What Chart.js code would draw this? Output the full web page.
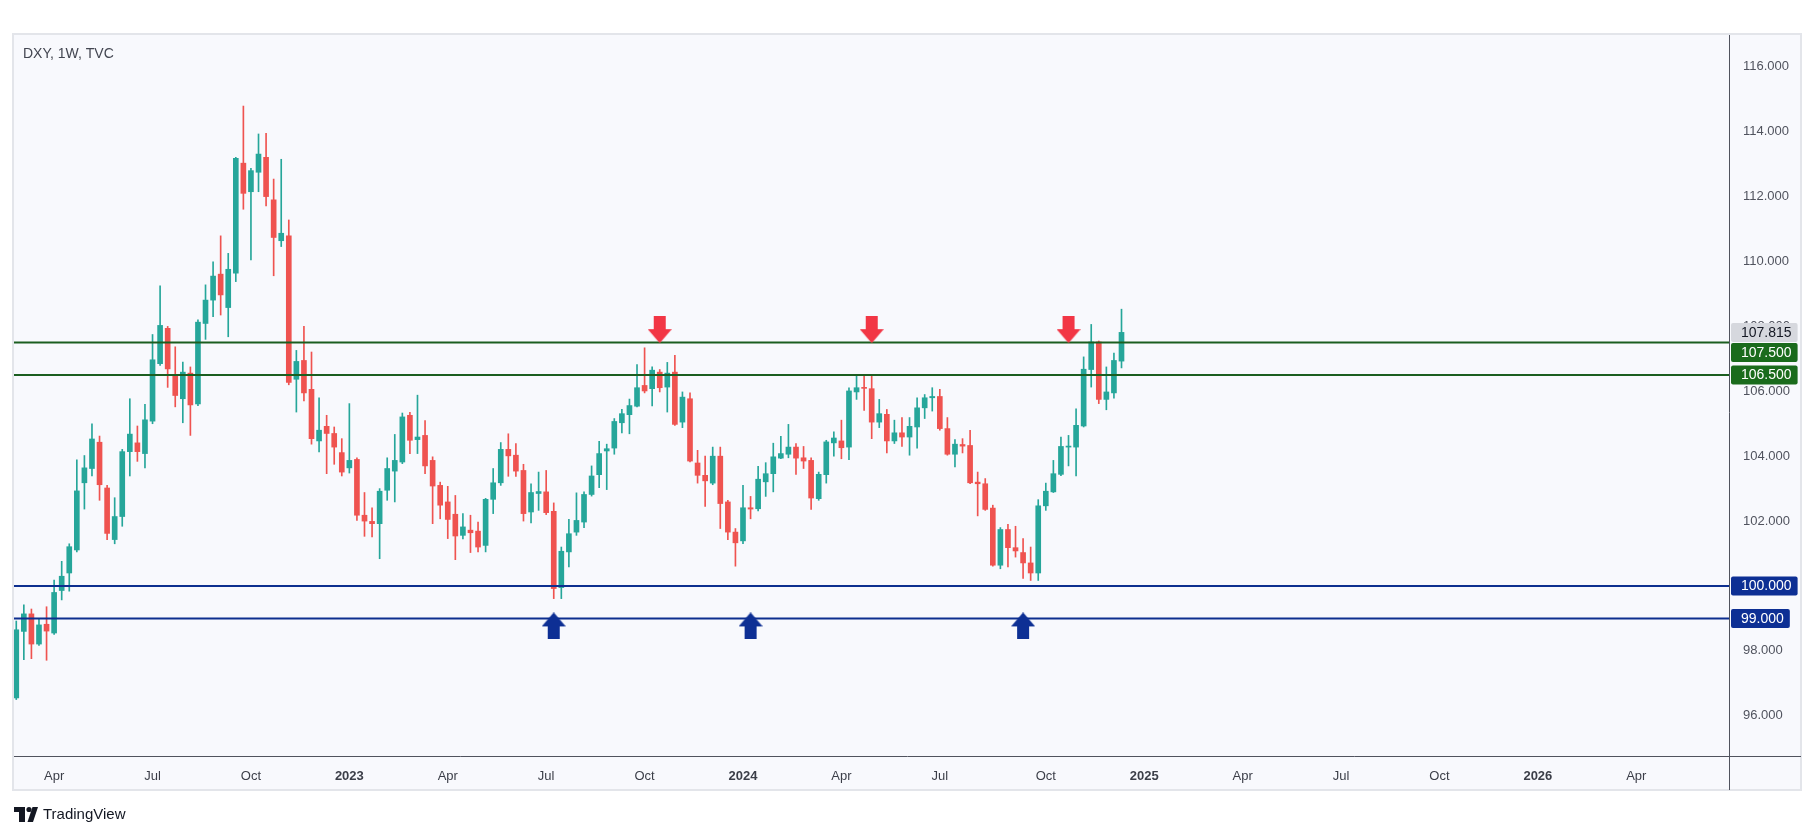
<!DOCTYPE html>
<html>
<head>
<meta charset="utf-8">
<script src="https://cdn.jsdelivr.net/npm/chart.js@4.4.1/dist/chart.umd.min.js"></script>
<style>
  html, body { margin: 0; padding: 0; background: #ffffff; }
  #wrap { width: 1815px; height: 836px; }
</style>
</head>
<body>
<div id="wrap"><canvas id="dxyChart" width="1815" height="836"></canvas></div>
<script>
// DXY weekly candles, first bar = week of 2022-02-28, one bar per week
const opens = [96.55, 98.60, 99.14, 98.21, 98.82, 98.55, 99.86, 100.40, 101.11, 103.18,
  103.62, 104.43, 103.02, 101.43, 102.14, 104.14, 104.41, 104.08, 105.08, 106.85,
  107.94, 106.52, 105.77, 106.56, 105.61, 108.09, 108.81, 109.61, 108.58, 109.64,
  113.03, 112.15, 112.75, 113.21, 111.90, 110.64, 110.79, 106.37, 106.95, 106.06,
  104.47, 104.92, 104.70, 104.11, 103.64, 103.90, 102.18, 101.99, 101.92, 102.95,
  103.54, 103.82, 105.26, 104.51, 104.64, 103.87, 103.10, 102.59, 102.21, 101.56,
  101.72, 101.69, 101.25, 102.67, 103.18, 104.21, 104.03, 103.56, 102.28, 102.85,
  102.90, 102.30, 99.95, 101.05, 101.66, 101.97, 102.82, 103.43, 104.16, 104.25,
  105.03, 105.28, 105.54, 106.18, 106.08, 106.59, 106.13, 106.59, 105.05, 105.77,
  103.79, 103.41, 103.17, 104.00, 102.59, 101.66, 101.39, 102.41, 102.38, 103.21,
  103.46, 103.94, 104.06, 104.28, 103.95, 103.87, 102.69, 103.43, 104.41, 104.47,
  104.28, 105.98, 106.12, 106.08, 105.05, 105.29, 104.47, 104.72, 104.59, 104.90,
  105.49, 105.80, 105.84, 104.85, 104.06, 104.36, 104.33, 103.20, 103.15, 102.40,
  100.64, 101.74, 101.18, 101.03, 100.71, 100.40, 102.47, 102.90, 103.44, 104.28,
  104.28, 104.93, 106.67, 107.52, 105.75, 105.95, 106.93];
const highs = [98.92, 99.42, 99.29, 98.99, 99.36, 100.18, 100.76, 101.30, 103.89, 104.02,
  105.00, 104.62, 103.10, 102.72, 104.21, 105.77, 104.93, 105.60, 107.75, 109.25,
  108.00, 107.37, 106.90, 106.75, 108.20, 109.28, 109.99, 110.79, 110.25, 113.21,
  114.79, 112.87, 113.93, 113.95, 112.54, 113.15, 111.28, 107.26, 108.00, 107.21,
  105.80, 105.26, 104.90, 104.54, 105.62, 103.95, 102.88, 102.41, 103.00, 103.95,
  104.67, 105.33, 105.35, 105.88, 105.10, 103.98, 103.20, 103.07, 102.79, 102.23,
  102.18, 101.97, 102.70, 103.62, 104.42, 104.69, 104.39, 103.75, 103.15, 103.51,
  103.56, 102.56, 101.20, 102.05, 102.87, 102.90, 103.70, 104.46, 104.37, 105.16,
  105.44, 105.76, 106.82, 107.34, 106.75, 106.67, 106.89, 107.11, 105.98, 105.95,
  104.18, 104.00, 104.28, 104.28, 102.64, 101.77, 103.10, 102.76, 103.69, 103.80,
  104.40, 104.61, 104.98, 104.39, 104.30, 103.95, 103.51, 104.49, 104.75, 105.11,
  106.11, 106.52, 106.49, 106.49, 105.75, 105.44, 105.11, 105.19, 105.19, 105.80,
  105.90, 106.11, 106.06, 105.19, 104.51, 104.54, 104.80, 103.51, 103.31, 102.49,
  101.80, 101.90, 101.84, 101.46, 101.20, 102.66, 103.17, 103.87, 104.59, 104.64,
  105.46, 107.06, 108.06, 107.55, 106.75, 107.18, 108.53];
const lows = [96.50, 97.73, 97.76, 98.17, 97.71, 98.51, 99.57, 99.84, 101.05, 102.37,
  103.39, 102.64, 101.43, 101.30, 101.84, 103.39, 103.84, 103.64, 105.00, 106.80,
  106.12, 105.52, 105.03, 104.64, 105.56, 107.60, 108.30, 108.35, 107.68, 109.38,
  111.61, 110.05, 112.15, 111.71, 109.56, 110.46, 106.20, 105.36, 105.70, 104.37,
  104.13, 103.46, 103.75, 103.39, 103.48, 102.02, 101.53, 101.51, 100.84, 102.64,
  102.59, 103.77, 104.08, 104.08, 103.46, 101.92, 102.07, 101.46, 100.81, 101.45,
  101.03, 101.05, 101.05, 102.23, 103.10, 103.38, 103.38, 102.00, 101.94, 102.33,
  102.20, 99.61, 99.61, 100.59, 101.56, 101.80, 102.77, 103.03, 102.97, 104.06,
  104.72, 104.69, 105.52, 105.95, 105.55, 105.98, 105.36, 104.95, 104.88, 103.82,
  103.17, 102.45, 103.12, 101.77, 101.43, 100.61, 101.30, 102.07, 102.31, 102.76,
  102.90, 103.92, 103.95, 103.44, 103.62, 102.36, 102.64, 103.17, 104.00, 103.92,
  103.89, 105.75, 105.41, 104.54, 104.88, 104.10, 104.39, 104.30, 104.03, 104.25,
  105.16, 105.39, 104.80, 104.03, 103.67, 104.10, 103.15, 102.16, 102.33, 100.61,
  100.53, 100.59, 100.89, 100.23, 100.17, 100.17, 102.33, 102.88, 103.40, 103.70,
  103.39, 104.90, 106.13, 105.62, 105.43, 105.79, 106.72];
const closes = [98.65, 99.14, 98.21, 98.80, 98.61, 99.80, 100.30, 101.21, 102.93, 103.64,
  104.53, 103.12, 101.62, 102.14, 104.14, 104.68, 104.14, 105.12, 106.97, 108.03,
  106.69, 105.87, 106.59, 105.58, 108.13, 108.81, 109.55, 108.97, 109.76, 113.18,
  112.10, 112.80, 113.31, 112.00, 110.74, 110.87, 106.27, 106.92, 105.95, 104.54,
  104.80, 104.70, 104.28, 103.51, 103.87, 102.18, 102.00, 101.92, 102.92, 103.62,
  103.87, 105.21, 104.49, 104.59, 103.70, 103.08, 102.49, 102.05, 101.54, 101.82,
  101.64, 101.20, 102.67, 103.18, 104.21, 104.01, 103.54, 102.23, 102.88, 102.91,
  102.26, 99.92, 101.07, 101.61, 102.02, 102.82, 103.39, 104.08, 104.23, 105.07,
  105.31, 105.56, 106.11, 106.01, 106.65, 106.11, 106.56, 104.98, 105.82, 103.85,
  103.41, 103.24, 104.00, 102.54, 101.66, 101.33, 102.41, 102.37, 103.29, 103.46,
  103.98, 104.08, 104.28, 103.94, 103.85, 102.71, 103.44, 104.44, 104.56, 104.26,
  106.01, 106.11, 106.09, 105.05, 105.31, 104.47, 104.72, 104.59, 104.92, 105.49,
  105.80, 105.84, 104.85, 104.06, 104.37, 104.31, 103.18, 103.15, 102.36, 100.64,
  101.74, 101.18, 101.08, 100.71, 100.40, 102.47, 102.92, 103.46, 104.30, 104.31,
  104.95, 106.68, 107.52, 105.75, 105.98, 106.95, 107.815];

const resistanceLevels = [107.5, 106.5];
const supportLevels = [100, 99];
const lastPrice = 107.815;
const yTicks = [96, 98, 100, 102, 104, 106, 108, 110, 112, 114, 116];
// x ticks in weeks from 2022-02-28 (first bar of each labelled month)
const xTickWeeks = [5, 18, 31, 44, 57, 70, 83, 96, 109, 122, 136, 149, 162, 175, 188, 201, 214];
const xTickLabels = ['Apr', 'Jul', 'Oct', '2023', 'Apr', 'Jul', 'Oct', '2024', 'Apr', 'Jul', 'Oct', '2025', 'Apr', 'Jul', 'Oct', '2026', 'Apr'];
const sellArrowWeeks = [85, 113, 139];
const buyArrowWeeks = [71, 97, 133];
const sellArrowPrice = 107.9;
const buyArrowPrice = 98.77;

const X_MIN = -0.3, X_MAX = 226.25;
const upColor = '#26a69a', downColor = '#ef5350';
const greenLine = '#1b5e20', blueLine = '#0d2f8f';
const greenTag = '#1a6b1c', blueTag = '#0d2f94';

const colors = closes.map((c, i) => c >= opens[i] ? upColor : downColor);
const bodies = opens.map((o, i) => ({ x: i, y: [o, closes[i]] }));
const wicks = lows.map((l, i) => ({ x: i, y: [l, highs[i]] }));

function makeArrow(color, down) {
  const c = document.createElement('canvas');
  c.width = 24; c.height = 27;
  const g = c.getContext('2d');
  g.fillStyle = color;
  g.beginPath();
  if (down) {
    g.moveTo(6, 0); g.lineTo(18, 0); g.lineTo(18, 13); g.lineTo(24, 13);
    g.lineTo(12, 27); g.lineTo(0, 13); g.lineTo(6, 13);
  } else {
    g.moveTo(12, 0); g.lineTo(24, 14); g.lineTo(18, 14); g.lineTo(18, 27);
    g.lineTo(6, 27); g.lineTo(6, 14); g.lineTo(0, 14);
  }
  g.closePath();
  g.fill();
  return c;
}

function levelLine(value, color) {
  return {
    type: 'line',
    data: [{ x: X_MIN, y: value }, { x: X_MAX, y: value }],
    borderColor: color,
    borderWidth: 2,
    pointRadius: 0
  };
}

const panelPlugin = {
  id: 'panel',
  beforeDraw(chart) {
    const ctx = chart.ctx;
    ctx.save();
    ctx.fillStyle = '#ffffff';
    ctx.fillRect(0, 0, chart.width, chart.height);
    ctx.fillStyle = '#f8f9fd';
    ctx.fillRect(13, 34, 1788, 756);
    ctx.strokeStyle = '#e3e5ea';
    ctx.lineWidth = 2;
    ctx.strokeRect(13, 34, 1788, 756);
    ctx.restore();
  },
  afterDraw(chart) {
    const ctx = chart.ctx;
    const area = chart.chartArea;
    const y = chart.scales.y;
    ctx.save();
    // axis lines
    ctx.strokeStyle = '#50535e';
    ctx.lineWidth = 1;
    ctx.beginPath();
    ctx.moveTo(14, area.bottom + 0.5); ctx.lineTo(1801, area.bottom + 0.5);
    ctx.moveTo(area.right + 0.5, 35); ctx.lineTo(area.right + 0.5, 790);
    ctx.stroke();

    // title
    ctx.fillStyle = '#434651';
    ctx.font = '14px "Liberation Sans", Arial, sans-serif';
    ctx.textBaseline = 'middle';
    ctx.textAlign = 'left';
    ctx.fillText('DXY, 1W, TVC', 23, 54);

    // price tags on the right axis
    const tags = [
      { v: lastPrice, bg: '#d6d8de', fg: '#131722' },
      { v: resistanceLevels[0], bg: greenTag, fg: '#ffffff' },
      { v: resistanceLevels[1], bg: greenTag, fg: '#ffffff' },
      { v: supportLevels[0], bg: blueTag, fg: '#ffffff' },
      { v: supportLevels[1], bg: blueTag, fg: '#ffffff' }
    ].map(t => ({ ...t, py: y.getPixelForValue(t.v) })).sort((a, b) => a.py - b.py);
    const h = 19;
    let prevBottom = -1e9;
    ctx.font = '14px "Liberation Sans", Arial, sans-serif';
    tags.forEach(t => {
      let top = t.py - h / 2;
      if (top < prevBottom + 1) top = prevBottom + 1;
      prevBottom = top + h;
      const txt = t.v.toFixed(3);
      const w = ctx.measureText(txt).width + 16;
      ctx.fillStyle = t.bg;
      ctx.beginPath();
      ctx.roundRect(area.right + 2, top, w, h, 2);
      ctx.fill();
      ctx.fillStyle = t.fg;
      ctx.fillText(txt, area.right + 12, top + h / 2 + 0.5);
    });

    // footer logo
    ctx.fillStyle = '#131722';
    ctx.fillRect(14, 807, 11, 5);
    ctx.fillRect(19, 807, 6, 15);
    ctx.beginPath();
    ctx.arc(29, 809.5, 2.6, 0, Math.PI * 2);
    ctx.fill();
    ctx.beginPath();
    ctx.moveTo(32.5, 807); ctx.lineTo(38, 807); ctx.lineTo(33, 822); ctx.lineTo(27.5, 822);
    ctx.closePath();
    ctx.fill();
    ctx.font = '15px "Liberation Sans", Arial, sans-serif';
    ctx.fillText('TradingView', 43, 815);
    ctx.restore();
  }
};

new Chart(document.getElementById('dxyChart').getContext('2d'), {
  type: 'bar',
  data: {
    datasets: [
      {
        type: 'line',
        data: sellArrowWeeks.map(w => ({ x: w, y: sellArrowPrice })),
        showLine: false,
        pointStyle: makeArrow('#f23645', true),
        pointRadius: 12
      },
      {
        type: 'line',
        data: buyArrowWeeks.map(w => ({ x: w, y: buyArrowPrice })),
        showLine: false,
        pointStyle: makeArrow('#0d2f94', false),
        pointRadius: 12
      },
      levelLine(resistanceLevels[0], greenLine),
      levelLine(resistanceLevels[1], greenLine),
      levelLine(supportLevels[0], blueLine),
      levelLine(supportLevels[1], blueLine),
      {
        data: bodies,
        backgroundColor: colors,
        barThickness: 5,
        minBarLength: 1,
        grouped: false,
        borderWidth: 0
      },
      {
        data: wicks,
        backgroundColor: colors,
        barThickness: 1,
        grouped: false,
        borderWidth: 0
      }
    ]
  },
  options: {
    responsive: false,
    animation: false,
    devicePixelRatio: 1,
    layout: { padding: { left: 14, top: 35, right: 15, bottom: 46 } },
    plugins: {
      legend: { display: false },
      tooltip: { enabled: false }
    },
    scales: {
      x: {
        type: 'linear',
        min: X_MIN,
        max: X_MAX,
        offset: false,
        grid: { display: false, drawTicks: false },
        border: { display: false },
        afterBuildTicks: s => { s.ticks = xTickWeeks.map(v => ({ value: v })); },
        afterFit: s => { s.height = 34; },
        ticks: {
          autoSkip: false,
          maxRotation: 0,
          padding: 13,
          color: '#3b3e48',
          font: ctx => ({
            family: '"Liberation Sans", Arial, sans-serif',
            size: 13,
            weight: /^\d{4}$/.test(xTickLabels[ctx.index] || '') ? 'bold' : 'normal'
          }),
          callback: (v, i) => xTickLabels[i]
        }
      },
      y: {
        position: 'right',
        min: 94.76,
        max: 116.98,
        grid: { display: false, drawTicks: false },
        border: { display: false },
        afterBuildTicks: s => { s.ticks = yTicks.map(v => ({ value: v })); },
        afterFit: s => { s.width = 71; },
        ticks: {
          padding: 14,
          color: '#50535e',
          font: { family: '"Liberation Sans", Arial, sans-serif', size: 13 },
          callback: v => Number(v).toFixed(3)
        }
      }
    }
  },
  plugins: [panelPlugin]
});
</script>
</body>
</html>
